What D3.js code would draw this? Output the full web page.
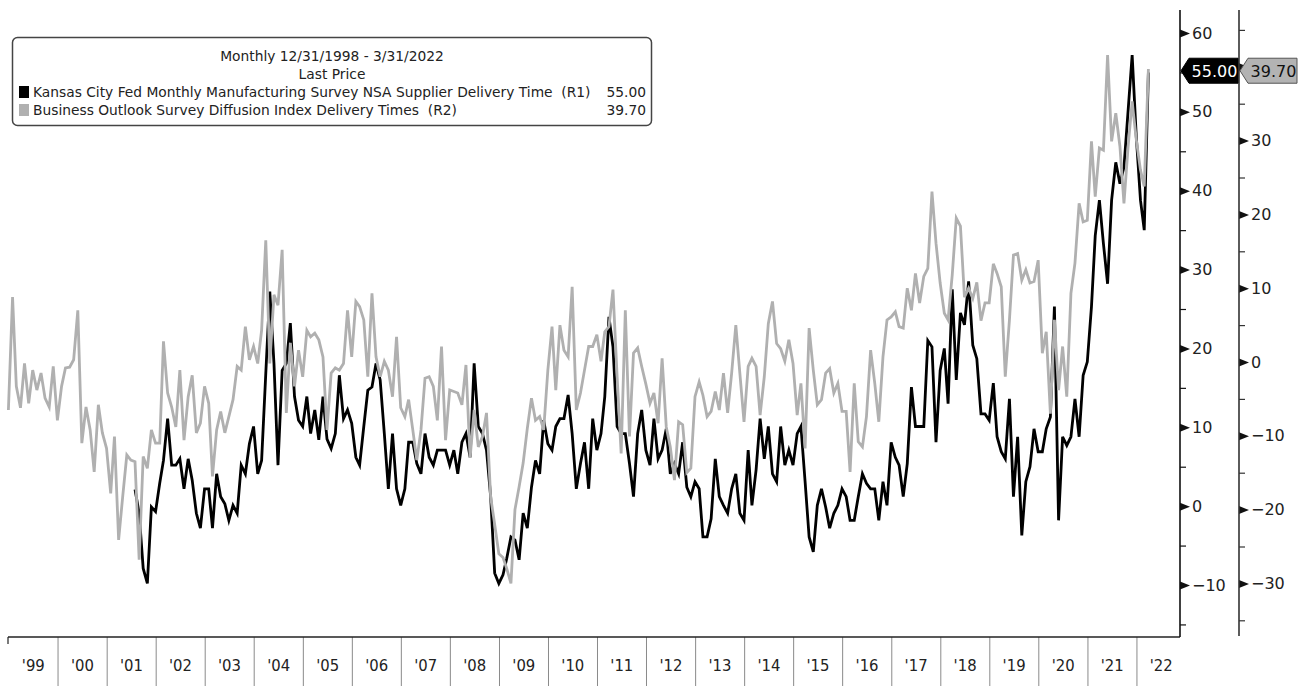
<!DOCTYPE html>
<html>
<head>
<meta charset="utf-8">
<script src="https://cdn.jsdelivr.net/npm/d3@7"></script>
<style>
  html, body { margin: 0; padding: 0; background: #ffffff; }
  svg { display: block; }
</style>
</head>
<body>
<svg id="chart" width="1301" height="686"></svg>
<script>
// ---------------- DATA ----------------
const legendTitle = "Monthly 12/31/1998 - 3/31/2022";
const legendSub = "Last Price";
const seriesNames = [
  "Kansas City Fed Monthly Manufacturing Survey NSA Supplier Delivery Time  (R1)",
  "Business Outlook Survey Diffusion Index Delivery Times  (R2)"
];
const lastValues = ["55.00", "39.70"];

// Business Outlook Survey Diffusion Index Delivery Times (R2), monthly Dec 1998 - Mar 2022
const grayValues = [
  -6.5, 8.8, -3.3, -6.2, -0.2, -5.6, -1.1, -3.8, -1.5, -4.9, -6.1, -0.6,
  -7.9, -3.3, -0.8, -0.7, 0.3, 7.0, -11.0, -6.1, -9.2, -14.9, -5.8, -9.6,
  -11.7, -17.8, -10.1, -24.1, -18.3, -12.6, -13.3, -13.5, -26.8, -12.8, -14.4, -9.2,
  -11.0, -11.0, 2.8, -4.2, -6.1, -8.8, -1.1, -10.6, -4.7, -1.8, -9.6, -8.3,
  -3.3, -5.6, -15.5, -9.2, -6.7, -9.6, -7.4, -5.1, -0.6, -1.1, 4.8, 0.3,
  2.1, -0.2, 4.3, 16.5, -0.2, 9.1, 7.7, 15.2, -6.9, 2.6, -3.3, 1.6,
  -2.0, 4.3, 3.4, 3.9, 3.0, 0.7, -9.2, -1.5, -0.8, -1.1, -0.2, 7.0,
  0.7, 8.2, 7.5, 5.7, -2.0, 9.3, 0.7, -2.0, 0.1, -1.1, -4.7, 3.4,
  -6.2, -7.4, -5.1, -9.2, -13.3, -9.2, -2.2, -2.0, -3.3, -7.9, 2.1, -10.6,
  -3.8, -4.0, -4.2, -5.8, -0.4, -13.0, -6.5, -11.5, -10.1, -6.9, -18.3, -22.0,
  -26.0, -26.5, -28.0, -30.0, -20.0, -16.9, -13.7, -9.0, -4.9, -7.9, -7.4, -9.2,
  -1.1, 4.8, -3.8, 5.0, 1.6, 0.7, 10.2, -6.5, -4.2, -1.1, 2.1, 2.1,
  3.7, 0.1, 4.1, 4.8, 9.8, -2.0, -12.4, 7.0, -10.1, 1.2, 1.9, -0.6,
  -3.0, -5.6, -4.2, -8.3, 0.5, -8.8, -11.5, -16.0, -8.1, -8.5, -15.0, -14.4,
  -4.7, -2.7, -4.5, -7.4, -6.7, -4.0, -6.5, -1.5, -6.9, -1.5, 5.0, -1.5,
  -8.1, -0.6, 0.5, -0.6, -7.2, -2.0, 5.2, 8.2, 2.5, 1.8, 0.1, 3.0,
  -0.2, -7.2, -2.9, -11.7, 4.6, -1.1, -5.8, -5.1, -1.5, -0.9, -4.2, -2.9,
  -6.7, -6.7, -14.9, -2.9, -10.8, -11.5, -7.4, 1.6, -2.9, -8.1, 0.7, 5.7,
  6.1, 6.8, 4.8, 4.6, 10.0, 7.0, 12.0, 8.0, 11.6, 12.7, 23.1, 16.1,
  10.7, 6.6, 5.7, 11.8, 19.5, 18.4, 8.8, 10.0, 8.6, 10.8, 5.6, 8.0,
  8.0, 13.3, 12.0, 10.2, -2.0, 5.7, 14.5, 14.7, 11.1, 12.5, 10.7, 10.9,
  13.8, 1.2, 4.1, -7.0, 5.7, -3.8, 2.1, -4.7, 9.3, 13.4, 21.5, 19.0,
  19.2, 29.9, 22.4, 29.0, 28.7, 41.6, 29.9, 33.7, 29.2, 21.5, 29.2, 35.3,
  30.1, 26.0, 23.8, 39.7
];

// Kansas City Fed Supplier Delivery Time (R1), monthly Jul 2001 - Mar 2022
const blackStartMonth = 31; // months after Dec 1998
const blackValues = [
  2.1, -0.9, -7.9, -9.8, -0.1,
  -0.7, 2.9, 5.8, 11.1, 5.2, 5.2, 6.0, 2.2, 6.0, 3.3, -0.9, -2.8,
  2.2, 2.2, -2.8, 4.1, 1.2, 0.3, -1.8, 0.1, -0.9, 5.2, 4.1, 7.9,
  10.1, 4.1, 5.8, 16.8, 27.2, 18.1, 5.2, 17.2, 18.1, 23.2, 13.9, 10.9,
  10.1, 13.9, 9.2, 12.2, 8.4, 13.9, 8.5, 7.3, 9.2, 16.6, 11.1, 12.2,
  10.5, 6.2, 5.2, 10.1, 14.7, 15.1, 18.1, 16.0, 9.2, 2.2, 9.2, 2.2,
  0.1, 2.2, 8.1, 8.1, 5.4, 4.1, 9.2, 6.2, 5.2, 7.1, 7.1, 7.1,
  5.2, 7.1, 4.1, 8.1, 9.2, 6.2, 18.1, 10.1, 9.2, 7.1, 1.2, -8.5,
  -9.8, -8.7, -6.6, -3.9, -4.3, -6.8, -0.9, -2.8, 2.4, 5.8, 4.1, 10.9,
  7.9, 7.1, 10.1, 11.1, 11.1, 14.1, 9.2, 2.2, 5.4, 8.1, 2.2, 11.1,
  7.1, 9.2, 13.9, 24.0, 20.2, 10.1, 9.2, 9.2, 5.4, 1.2, 9.2, 12.2,
  7.1, 5.2, 11.1, 6.0, 7.1, 9.8, 4.1, 5.4, 4.1, 8.1, 2.4, 1.2,
  3.1, 2.2, -3.9, -3.9, -1.6, 6.0, 1.2, 0.1, -0.9, 2.2, 4.1, -0.9,
  -1.8, 7.1, 0.1, 4.6, 11.1, 6.0, 10.1, 4.1, 3.1, 10.1, 5.2, 7.1,
  5.2, 9.2, 10.1, 3.1, -3.9, -5.8, 0.1, 2.2, -0.1, -2.8, -0.9, 0.1,
  2.2, 1.2, -1.8, -1.8, 1.2, 4.1, 2.9, 2.2, 2.2, -1.8, 3.1, 0.1,
  8.1, 6.2, 5.2, 1.2, 5.4, 15.1, 10.1, 10.1, 10.1, 21.0, 20.2, 8.1,
  17.2, 20.0, 13.0, 27.5, 16.0, 24.5, 23.0, 28.5, 20.4, 18.7, 11.7, 11.7,
  10.9, 15.6, 8.8, 6.9, 6.0, 13.6, 1.2, 8.8, -3.7, 3.1, 5.0, 9.8,
  6.9, 6.9, 9.8, 11.3, 25.3, -1.8, 8.8, 7.7, 8.8, 13.6, 8.8, 16.6,
  18.3, 25.3, 34.3, 38.8, 33.3, 28.2, 38.8, 43.6, 40.9, 43.0, 50.2, 57.2,
  46.8, 38.8, 35.0, 55.0
];

const r1MajorTicks = [-10, 0, 10, 20, 30, 40, 50, 60];
const r1MinorTicks = [-15, -5, 5, 15, 25, 35, 45, 55];
const r2MajorTicks = [-30, -20, -10, 0, 10, 20, 30, 40];
const r2HiddenLabels = [40]; // covered by the last-value tag
const r2MinorTicks = [-35, -25, -15, -5, 5, 15, 25, 35, 45];
const yearLabels = ["'99","'00","'01","'02","'03","'04","'05","'06","'07","'08","'09","'10",
                    "'11","'12","'13","'14","'15","'16","'17","'18","'19","'20","'21","'22"];
const firstYear = 1999;

// ---------------- CHART ----------------
const svg = d3.select("#chart");
const monthEnd = k => new Date(1999, k, 0); // k=0 -> 31 Dec 1998

const x = d3.scaleTime()
  .domain([new Date(1998, 11, 31), new Date(2022, 2, 31)])
  .range([8.4, 1148.4]);
const yR1 = d3.scaleLinear().domain([-10, 60]).range([585, 33]);
const yR2 = d3.scaleLinear().domain([-30, 30]).range([583.4, 140.6]);

const plotLeft = 8, plotRight = 1180, plotBottom = 637, axisTop = 10;
const r2X = 1239;

const grayData = grayValues.map((v, i) => ({ date: monthEnd(i), v }));
const blackData = blackValues.map((v, i) => ({ date: monthEnd(blackStartMonth + i), v }));

// bottom axis: separators
const sepYears = d3.range(firstYear + 1, firstYear + yearLabels.length).map(y => new Date(y, 0, 1));
const sepAxis = d3.axisBottom(x).tickValues(sepYears).tickSize(50).tickFormat("");
const gSep = svg.append("g").attr("transform", `translate(0,${plotBottom})`).call(sepAxis);
gSep.select(".domain").remove();
gSep.selectAll(".tick line").attr("stroke", "#8a8a8a").attr("stroke-width", 1);

const labelDates = yearLabels.map((_, i) => new Date(firstYear + i, 6, 1));
const labAxis = d3.axisBottom(x).tickValues(labelDates).tickSize(0).tickPadding(22)
  .tickFormat((d, i) => yearLabels[i]);
const gLab = svg.append("g").attr("transform", `translate(0,${plotBottom})`).call(labAxis);
gLab.select(".domain").remove();
gLab.selectAll(".tick text")
  .attr("font-family", "'DejaVu Sans Condensed', 'DejaVu Sans', sans-serif")
  .attr("font-size", 16.5).attr("fill", "#222");

// bottom axis line + first tick
svg.append("line").attr("x1", plotLeft).attr("x2", plotRight)
  .attr("y1", plotBottom).attr("y2", plotBottom).attr("stroke", "#222").attr("stroke-width", 1.5);
svg.append("line").attr("x1", plotLeft).attr("x2", plotLeft)
  .attr("y1", plotBottom).attr("y2", plotBottom + 7).attr("stroke", "#222").attr("stroke-width", 1.2);

// right axes
function drawRightAxis(scale, xPos, major, minor, hidden, bottom, color) {
  const g = svg.append("g").attr("transform", `translate(${xPos},0)`);
  const minorAxis = d3.axisRight(scale).tickValues(minor).tickSize(6).tickFormat("");
  const gm = g.append("g").call(minorAxis);
  gm.select(".domain").remove();
  gm.selectAll(".tick line").attr("stroke", color).attr("stroke-width", 1.2);
  const majorAxis = d3.axisRight(scale).tickValues(major).tickSize(0).tickPadding(12)
    .tickFormat(d => hidden.includes(d) ? "" : d3.format("d")(d));
  const gM = g.append("g").call(majorAxis);
  gM.select(".domain").remove();
  gM.selectAll(".tick").append("path").attr("d", "M0,-4L10,0L0,4Z").attr("fill", "#111");
  gM.selectAll(".tick text")
    .attr("font-family", "'DejaVu Sans', sans-serif")
    .attr("font-size", 16).attr("fill", "#222");
  g.append("line").attr("x1", 0).attr("x2", 0).attr("y1", axisTop).attr("y2", bottom)
    .attr("stroke", color).attr("stroke-width", 1.6);
}
drawRightAxis(yR1, plotRight, r1MajorTicks, r1MinorTicks, [], plotBottom, "#111");
drawRightAxis(yR2, r2X, r2MajorTicks, r2MinorTicks, r2HiddenLabels, plotBottom - 1, "#333");

// lines
const lineR1 = d3.line().x(d => x(d.date)).y(d => yR1(d.v));
const lineR2 = d3.line().x(d => x(d.date)).y(d => yR2(d.v));
svg.append("path").datum(blackData).attr("d", lineR1)
  .attr("fill", "none").attr("stroke", "#000").attr("stroke-width", 2.8)
  .attr("stroke-linejoin", "miter");
svg.append("path").datum(grayData).attr("d", lineR2)
  .attr("fill", "none").attr("stroke", "#b0b0b0").attr("stroke-width", 2.8)
  .attr("stroke-linejoin", "miter");

// last value tags
function tag(x0, x1, yc, fill, stroke, textColor, label) {
  const h = 12.5;
  svg.append("path")
    .attr("d", `M${x0},${yc}L${x0 + 8},${yc - h}L${x1},${yc - h}L${x1},${yc + h}L${x0 + 8},${yc + h}Z`)
    .attr("fill", fill).attr("stroke", stroke).attr("stroke-width", 1);
  svg.append("text").attr("x", (x0 + 8 + x1) / 2 + 1).attr("y", yc + 6)
    .attr("text-anchor", "middle")
    .attr("font-family", "'DejaVu Sans', sans-serif").attr("font-size", 16)
    .attr("fill", textColor).text(label);
}
const tagY = (yR1(55) + yR2(39.7)) / 2;
tag(plotRight + 1, r2X - 1, tagY, "#000", "#000", "#fff", lastValues[0]);
tag(r2X + 1, 1297, tagY, "#b3b3b3", "#555", "#111", lastValues[1]);

// legend
const lg = svg.append("g");
lg.append("rect").attr("x", 12.5).attr("y", 37.5).attr("width", 639).attr("height", 88)
  .attr("rx", 5).attr("fill", "#fff").attr("stroke", "#444").attr("stroke-width", 1.5);
const lf = "'DejaVu Sans', sans-serif";
const lfs = 13.8;
lg.append("text").attr("x", 332).attr("y", 61).attr("text-anchor", "middle")
  .attr("font-family", lf).attr("font-size", lfs).attr("fill", "#222").text(legendTitle);
lg.append("text").attr("x", 332).attr("y", 79).attr("text-anchor", "middle")
  .attr("font-family", lf).attr("font-size", lfs).attr("fill", "#222").text(legendSub);
const swatches = ["#000", "#b0b0b0"];
seriesNames.forEach((name, i) => {
  const yy = 97 + i * 18;
  lg.append("rect").attr("x", 19).attr("y", yy - 11).attr("width", 10).attr("height", 12)
    .attr("fill", swatches[i]);
  lg.append("text").attr("x", 33).attr("y", yy).attr("font-family", lf)
    .attr("font-size", lfs).attr("fill", "#222").attr("xml:space", "preserve")
    .style("white-space", "pre").text(name);
  lg.append("text").attr("x", 646).attr("y", yy).attr("text-anchor", "end")
    .attr("font-family", lf).attr("font-size", lfs).attr("fill", "#222").text(lastValues[i]);
});
</script>
</body>
</html>
